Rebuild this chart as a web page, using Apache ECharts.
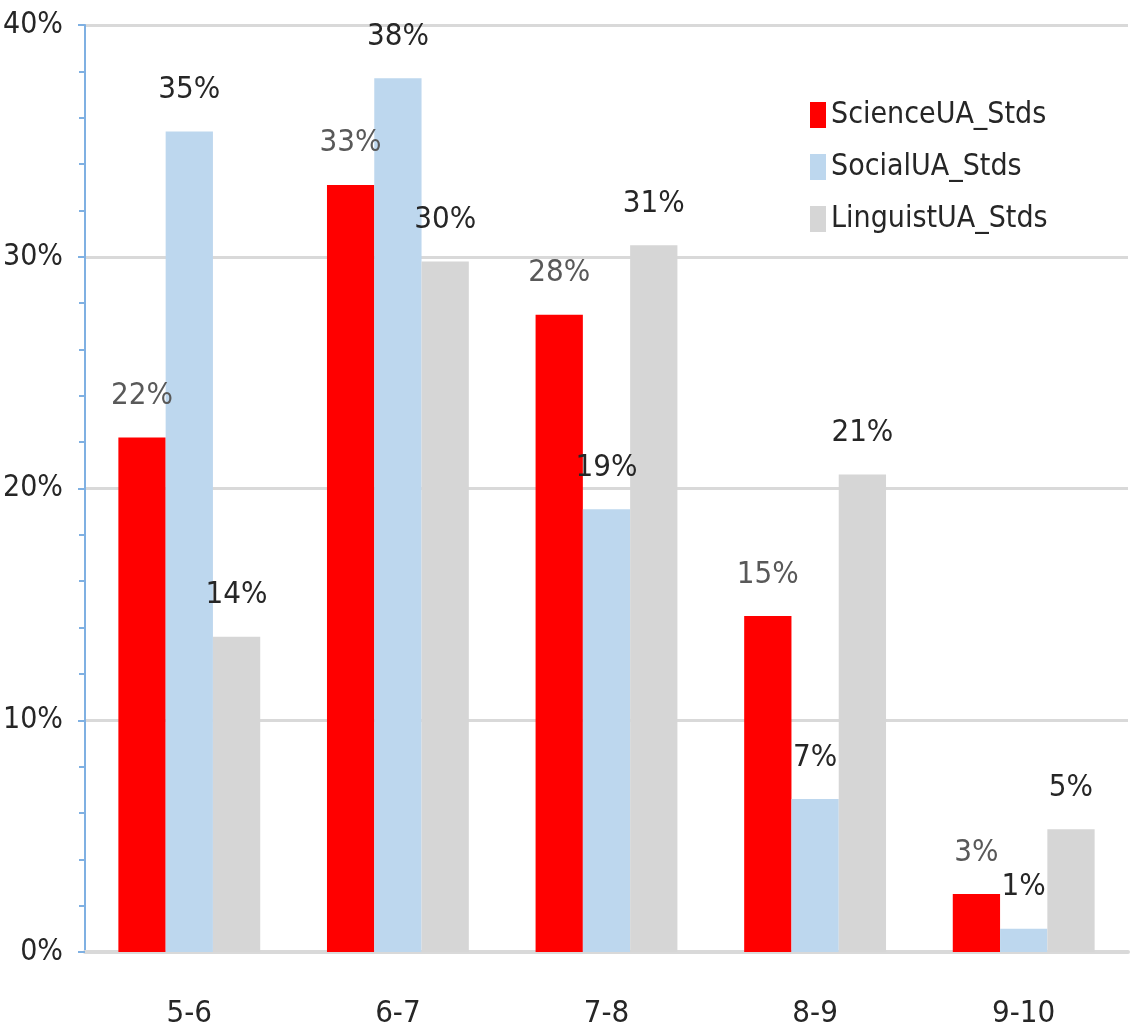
<!DOCTYPE html>
<html><head><meta charset="utf-8">
<script src="https://cdn.jsdelivr.net/npm/echarts@6/dist/echarts.min.js"></script>
<style>html,body{margin:0;padding:0;background:#fff}#c{width:1134px;height:1032px}</style>
</head><body><div id="c"></div>
<script>
const categories = ['5-6', '6-7', '7-8', '8-9', '9-10'];
const scienceUA = [22.2, 33.1, 27.5, 14.5, 2.5];
const socialUA = [35.4, 37.7, 19.1, 6.6, 1.0];
const linguistUA = [13.6, 29.8, 30.5, 20.6, 5.3];
const seriesNames = ['ScienceUA_Stds', 'SocialUA_Stds', 'LinguistUA_Stds'];
const yTicks = [0, 10, 20, 30, 40];

const FONT = '"Liberation Sans Narrow", "DejaVu Sans Condensed", "Open Sans", sans-serif';
const chart = echarts.init(document.getElementById('c'));
function mk(name, data, color, labelColor) {
  return {
    name, type: 'bar', data,
    barGap: '0%', barCategoryGap: '32%',
    itemStyle: { color },
    label: {
      show: true, position: 'top', distance: 26,
      fontFamily: FONT, fontSize: 31, color: labelColor,
      formatter: p => Math.round(p.value) + '%'
    }
  };
}
chart.setOption({
  animation: false,
  backgroundColor: '#fff',
  textStyle: { fontFamily: FONT },
  grid: { left: 85, right: 6, top: 25, bottom: 80, containLabel: false },
  legend: {
    orient: 'vertical', left: 805, top: 95,
    itemWidth: 16, itemHeight: 26, itemGap: 22,
    icon: 'rect',
    textStyle: { fontFamily: FONT, fontSize: 30, color: '#262626', padding: [0, 0, 0, 0] },
    data: seriesNames
  },
  xAxis: {
    type: 'category', data: categories,
    axisLine: { lineStyle: { color: '#d9d9d9', width: 4 } },
    axisTick: { show: false },
    axisLabel: { fontFamily: FONT, fontSize: 31, color: '#262626', margin: 46 }
  },
  yAxis: {
    type: 'value', min: yTicks[0], max: yTicks[yTicks.length - 1], interval: 10,
    axisLine: { show: true, lineStyle: { color: '#7fb0e2', width: 2 } },
    axisTick: { show: true, length: 7, lineStyle: { color: '#7fb0e2', width: 2 } },
    minorTick: { show: true, splitNumber: 5, length: 6, lineStyle: { color: '#7fb0e2', width: 2 } },
    splitLine: { lineStyle: { color: '#d9d9d9', width: 3 } },
    axisLabel: { fontFamily: FONT, fontSize: 30, color: '#262626', margin: 22, formatter: v => v + '%' }
  },
  series: [
    mk(seriesNames[0], scienceUA, '#ff0000', '#595959'),
    mk(seriesNames[1], socialUA, '#bdd7ee', '#262626'),
    mk(seriesNames[2], linguistUA, '#d6d6d6', '#262626')
  ]
});
</script></body></html>
